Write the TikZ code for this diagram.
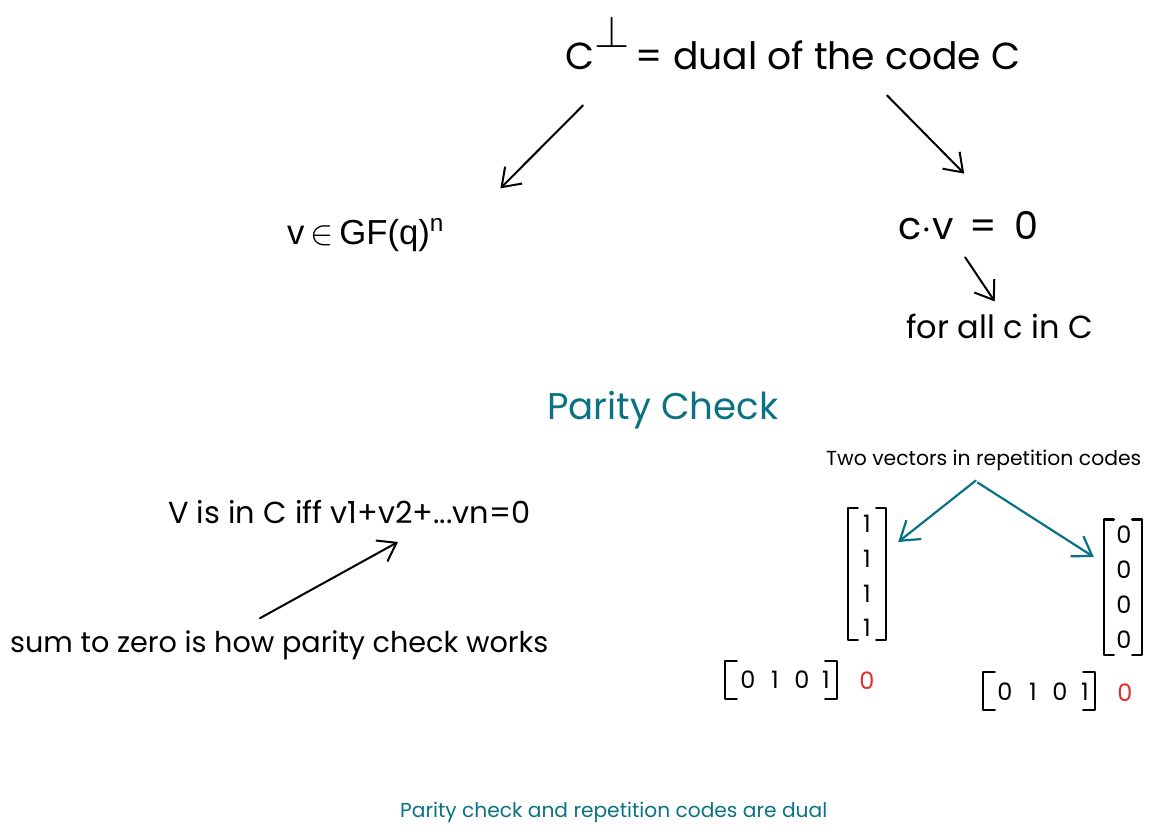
\documentclass[tikz,border=0pt]{standalone}
\usepackage{fontspec}
\setmainfont{Poppins}
\newfontfamily\arialf{Liberation Sans}
\usetikzlibrary{arrows.meta,calc}
\definecolor{tealc}{HTML}{0B7285}
\definecolor{redc}{HTML}{E03131}
\newcommand{\fw}[2]{\resizebox{#1}{!}{#2}}
\begin{document}
\begin{tikzpicture}[x=1pt,y=-1pt,
  txt/.style={inner sep=0pt, anchor=west},
  ent/.style={inner sep=0pt, font=\fontsize{24}{28}\selectfont},
  arr/.style={line width=2pt, line cap=round, -{Straight Barb[length=17pt,width=24pt,line width=2pt]}},
  tarr/.style={line width=2.2pt, line cap=round, draw=tealc, -{Straight Barb[length=18pt,width=24pt,line width=2.2pt]}},
  brk/.style={line width=2.4pt, line cap=round, line join=round},
  vec/.style={inner sep=0pt, minimum width=38pt}]
\useasboundingbox[fill=white] (0,0) rectangle (1152,836);

% top
\node[txt] (dual) at (565,43) {\fw{455pt}{C\raisebox{0.6em}{\large$\perp$}\,= dual of the code C}};
\node[txt] (gf) at (287,235) {\fw{158pt}{\arialf v\,$\in$\,GF(q)\textsuperscript{n}}};
\node[txt] (cv) at (898,226) {\fw{140pt}{c$\cdot$v \,=\, 0}};
\node[txt] (forall) at (906,326) {\fw{187pt}{for all c in C}};

\draw[arr] ($(dual.south west)+(18,35)$) -- ($(gf.north east)+(55,-30)$);
\draw[arr] ($(dual.south west)+(322,25)$) -- ($(cv.north)+(-4,-38)$);
\draw[arr] ($(cv.south)+(-3,17)$) -- ($(forall.north)+(-5,-12)$);

% parity check
\node[txt] (parity) at (547,410) {\fw{231pt}{\color{tealc}Parity Check}};
\node[txt] (twov) at (826,460) {\fw{315pt}{Two vectors in repetition codes}};
\node[txt] (viin) at (168,512) {\fw{362pt}{V is in C iff v1+v2+...vn=0}};
\node[txt] (sum) at (10,645) {\fw{538pt}{sum to zero is how parity check works}};
\draw[arr] ($(sum.north west)+(250,-12)$) -- ($(viin.south west)+(230,18)$);

% column vectors
\node[vec, minimum height=132pt] (lv) at (867,574) {};
\node[ent] (l1) at (867,524) {1};
\node[ent] (l2) at (867,559) {1};
\node[ent] (l3) at (867,594) {1};
\node[ent] (l4) at (867,628) {1};
\draw[brk] ($(lv.north west)+(10,0)$) -- (lv.north west) -- (lv.south west) -- ($(lv.south west)+(10,0)$);
\draw[brk] ($(lv.north east)+(-10,0)$) -- (lv.north east) -- (lv.south east) -- ($(lv.south east)+(-10,0)$);

\node[vec, minimum height=135pt] (rv) at (1123,587) {};
\node[ent] (r1) at (1124,535) {0};
\node[ent] (r2) at (1124,570) {0};
\node[ent] (r3) at (1124,605) {0};
\node[ent] (r4) at (1124,640) {0};
\draw[brk] ($(rv.north west)+(10,0)$) -- (rv.north west) -- (rv.south west) -- ($(rv.south west)+(10,0)$);
\draw[brk] ($(rv.north east)+(-10,0)$) -- (rv.north east) -- (rv.south east) -- ($(rv.south east)+(-10,0)$);

\draw[tarr] ($(twov.south)+(-8,10)$) -- ($(lv.east)+(12,-32)$);
\draw[tarr] ($(twov.south)+(-6,12)$) -- ($(rv.west)+(-10,-30)$);

% row vectors
\node[inner sep=0pt, minimum width=112pt, minimum height=38pt] (row1) at (781,680) {};
\node[ent] (a1) at (748,680) {0};
\node[ent] (a2) at (775,680) {1};
\node[ent] (a3) at (802,680) {0};
\node[ent] (a4) at (826,680) {1};
\draw[brk] ($(row1.north west)+(12,0)$) -- (row1.north west) -- (row1.south west) -- ($(row1.south west)+(12,0)$);
\draw[brk] ($(row1.north east)+(-12,0)$) -- (row1.north east) -- (row1.south east) -- ($(row1.south east)+(-12,0)$);
\node[ent, text=redc] (a5) at (867,681) {0};

\node[inner sep=0pt, minimum width=112pt, minimum height=38pt] (row2) at (1039,691) {};
\node[ent] (b1) at (1005,692) {0};
\node[ent] (b2) at (1033,692) {1};
\node[ent] (b3) at (1060,692) {0};
\node[ent] (b4) at (1085,692) {1};
\draw[brk] ($(row2.north west)+(12,0)$) -- (row2.north west) -- (row2.south west) -- ($(row2.south west)+(12,0)$);
\draw[brk] ($(row2.north east)+(-12,0)$) -- (row2.north east) -- (row2.south east) -- ($(row2.south east)+(-12,0)$);
\node[ent, text=redc] (b5) at (1125,693) {0};

\node[txt] (foot) at (400,812) {\fw{427pt}{\color{tealc}Parity check and repetition codes are dual}};
\end{tikzpicture}
\end{document}
